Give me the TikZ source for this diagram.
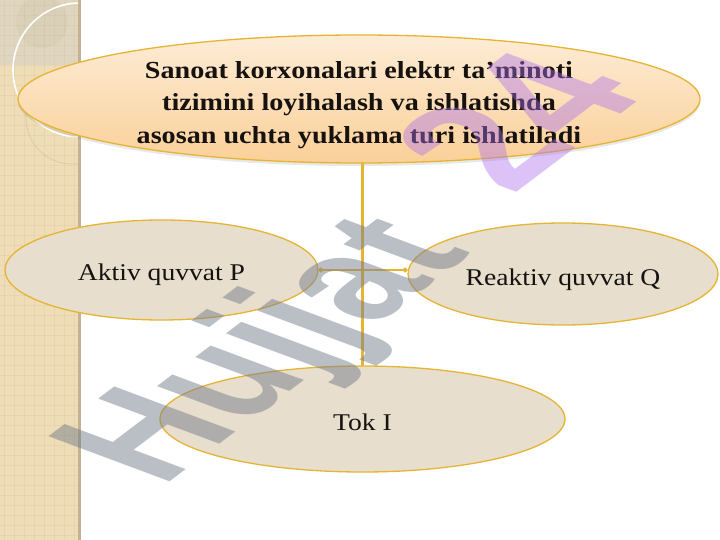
\documentclass[tikz,border=0pt]{standalone}
\usepackage{fontspec}
\setmainfont[FakeStretch=1.15]{Liberation Serif}
\newfontfamily\markfont{Liberation Sans}
\usetikzlibrary{shapes.geometric,arrows.meta,shadows}

\definecolor{stripbeige}{RGB}{238,221,182}
\definecolor{striptop}{RGB}{224,214,192}
\definecolor{stripedge}{RGB}{196,178,146}
\definecolor{gold}{RGB}{230,180,52}
\definecolor{boxbeige}{RGB}{231,222,205}
\definecolor{peachtop}{RGB}{253,236,214}
\definecolor{peachbottom}{RGB}{250,208,152}
\definecolor{inkblack}{RGB}{22,18,16}
\definecolor{markgray}{RGB}{118,126,140}
\definecolor{markpurple}{RGB}{172,112,236}

% lower a text inside its node, keeping the node size
\newcommand{\lowtext}[2]{\raisebox{-#1}[\height][\depth]{#2}}

\begin{document}
\begin{tikzpicture}[x=1pt,y=-1pt,line cap=round]
% Styles
\tikzstyle{load}=[ellipse, draw=gold, line width=1.3pt, fill=boxbeige, inner sep=0pt,
  text=inkblack, font=\fontsize{24}{30}\selectfont]
\tikzstyle{headload}=[load, top color=peachtop, bottom color=peachbottom,
  font=\fontsize{24.5}{32.5}\selectfont\bfseries,
  drop shadow={opacity=0.18, shadow xshift=0pt, shadow yshift=-3pt}]
\tikzstyle{link}=[draw=gold, line width=2.3pt]
\tikzstyle{stripgrid}=[draw=stripedge, line width=0.4pt, opacity=0.18]
\tikzstyle{mark text}=[transform shape, anchor=base west, inner sep=0pt,
  font=\markfont\bfseries\fontsize{160}{160}\selectfont]

\useasboundingbox (0,0) rectangle (720,540);
\fill[white] (0,0) rectangle (720,540);

% left strip
\fill[stripbeige] (0,0) rectangle (78,540);
\fill[striptop] (0,0) rectangle (78,65);
\foreach \x in {4,14,...,74} {
\draw[stripgrid] (\x,0) -- (\x,540);
}
\foreach \y in {5,15,...,535} {
\draw[stripgrid] (0,\y) -- (78,\y);
}
%round marks on the strip
\begin{scope}
\clip (0,0) rectangle (78,540);
\fill[stripedge, opacity=0.18] (42,22) circle (26);
\draw[stripedge, opacity=0.35, line width=1pt] (72,118) circle (46);
\draw[white, line width=1.6pt] (80,70) circle (67);
\end{scope}
\draw[stripedge, line width=3pt] (79,0) -- (79,540);

% draw the nodes
\node[headload, minimum width=682pt, minimum height=128pt] (loads) at (359,99)
  {\raisebox{-11.5pt}[40pt][40pt]{\begin{tabular}{@{}c@{}}Sanoat korxonalari elektr ta’minoti\\
  tizimini loyihalash va ishlatishda\\asosan uchta yuklama turi ishlatiladi\end{tabular}}};
\node[load, minimum width=313pt, minimum height=100pt] (active) at (161.5,270) {\lowtext{4.5pt}{Aktiv quvvat P}};
\node[load, minimum width=310pt, minimum height=102pt] (reactive) at (563,274) {\lowtext{6pt}{Reaktiv quvvat Q}};
\node[load, minimum width=405pt, minimum height=106pt] (current) at (362.5,419) {\lowtext{3pt}{Tok I}};

%connectors
\draw[link] (current.north |- loads.south) -- (current.north);
\draw[link, {Circle[length=4.5pt]}-{Circle[length=4.5pt]}] (active.east) -- (active.east -| reactive.west);

% watermark
\begin{scope}[shift={(162,488)}, cm={0.70,0.53,-1.10,0.41,(0,0)}]
\node[mark text, text=markgray, text opacity=0.5] (markword) {Hujjat};
\end{scope}
\begin{scope}[shift={(512,196)}, cm={0.77,0.58,-1.18,0.44,(0,0)}]
\node[mark text, text=markpurple, text opacity=0.42] (marknum) {24};
\end{scope}

\end{tikzpicture}
\end{document}
